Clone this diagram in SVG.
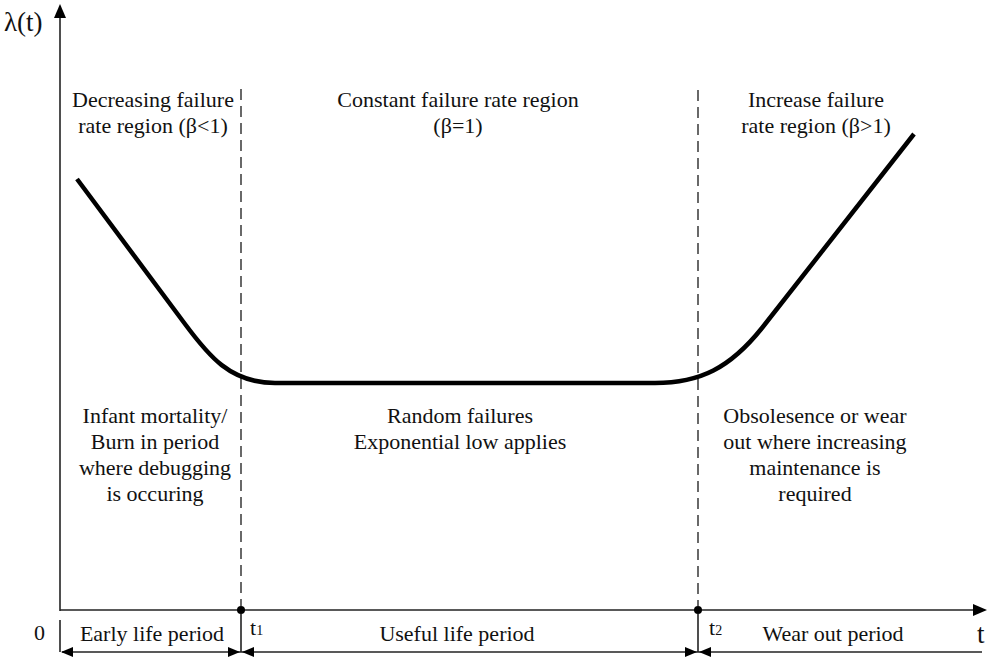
<svg xmlns="http://www.w3.org/2000/svg" width="994" height="659" viewBox="0 0 994 659">
<defs>
<style>
text{font-family:"Liberation Serif","Times New Roman","DejaVu Serif",serif;fill:#111}
.t{font-size:22px;text-anchor:middle}
.ax{stroke:#222;stroke-width:1.6;fill:none}
.dash{stroke:#444;stroke-width:1.6;stroke-dasharray:11 6;fill:none}
.curve{stroke:#000;stroke-width:4.5;fill:none;stroke-linejoin:round}
</style>
</defs>
<rect width="994" height="659" fill="#fff"/>
<g id="axes">
<line class="ax" x1="60" y1="611" x2="60" y2="16"/>
<polygon points="60,4 54,18 66,18" fill="#000"/>
<line class="ax" x1="60" y1="610" x2="975" y2="610"/>
<polygon points="987,610 973,604 973,616" fill="#000"/>
<text x="4" y="31" font-size="27">λ(t)</text>
<text x="34" y="640" font-size="22">0</text>
<text x="977" y="643" font-size="27">t</text>
</g>
<g id="connectors">
<line class="dash" x1="241" y1="89" x2="241" y2="606"/>
<line class="dash" x1="698" y1="90" x2="698" y2="606"/>
<line class="ax" x1="241" y1="614" x2="241" y2="652"/>
<line class="ax" x1="698" y1="614" x2="698" y2="652"/>
<line class="ax" x1="60" y1="620" x2="60" y2="652"/>
<circle cx="241" cy="610" r="4" fill="#000"/>
<circle cx="698" cy="610" r="4" fill="#000"/>
<line class="ax" x1="62" y1="652" x2="982" y2="652"/>
<polygon points="61,652 73,647 73,657" fill="#000"/>
<polygon points="240,652 228,647 228,657" fill="#000"/>
<polygon points="242,652 254,647 254,657" fill="#000"/>
<polygon points="697,652 685,647 685,657" fill="#000"/>
<polygon points="699,652 711,647 711,657" fill="#000"/>
</g>
<g id="curve">
<path class="curve" d="M77,179 L185,324 C208,355 230,383 275,383 L655,383 C700,383 730,368 762,328 L914,134"/>
</g>
<g id="top-labels">
<text class="t" x="153" y="107">Decreasing failure</text>
<text class="t" x="153" y="133">rate region (β&lt;1)</text>
<text class="t" x="458" y="107">Constant failure rate region</text>
<text class="t" x="458" y="133">(β=1)</text>
<text class="t" x="816" y="107">Increase failure</text>
<text class="t" x="816" y="133">rate region (β&gt;1)</text>
</g>
<g id="mid-labels">
<text class="t" x="155" y="423">Infant mortality/</text>
<text class="t" x="155" y="449">Burn in period</text>
<text class="t" x="155" y="475">where debugging</text>
<text class="t" x="155" y="501">is occuring</text>
<text class="t" x="460" y="423">Random failures</text>
<text class="t" x="460" y="449">Exponential low applies</text>
<text class="t" x="815" y="423">Obsolesence or wear</text>
<text class="t" x="815" y="449">out where increasing</text>
<text class="t" x="815" y="475">maintenance is</text>
<text class="t" x="815" y="501">required</text>
</g>
<g id="bottom-labels">
<text class="t" x="152" y="641">Early life period</text>
<text class="t" x="457" y="641">Useful life period</text>
<text class="t" x="833" y="641">Wear out period</text>
<text x="250" y="635" font-size="22">t<tspan font-size="14">1</tspan></text>
<text x="709" y="635" font-size="22">t<tspan font-size="14">2</tspan></text>
</g>
</svg>
